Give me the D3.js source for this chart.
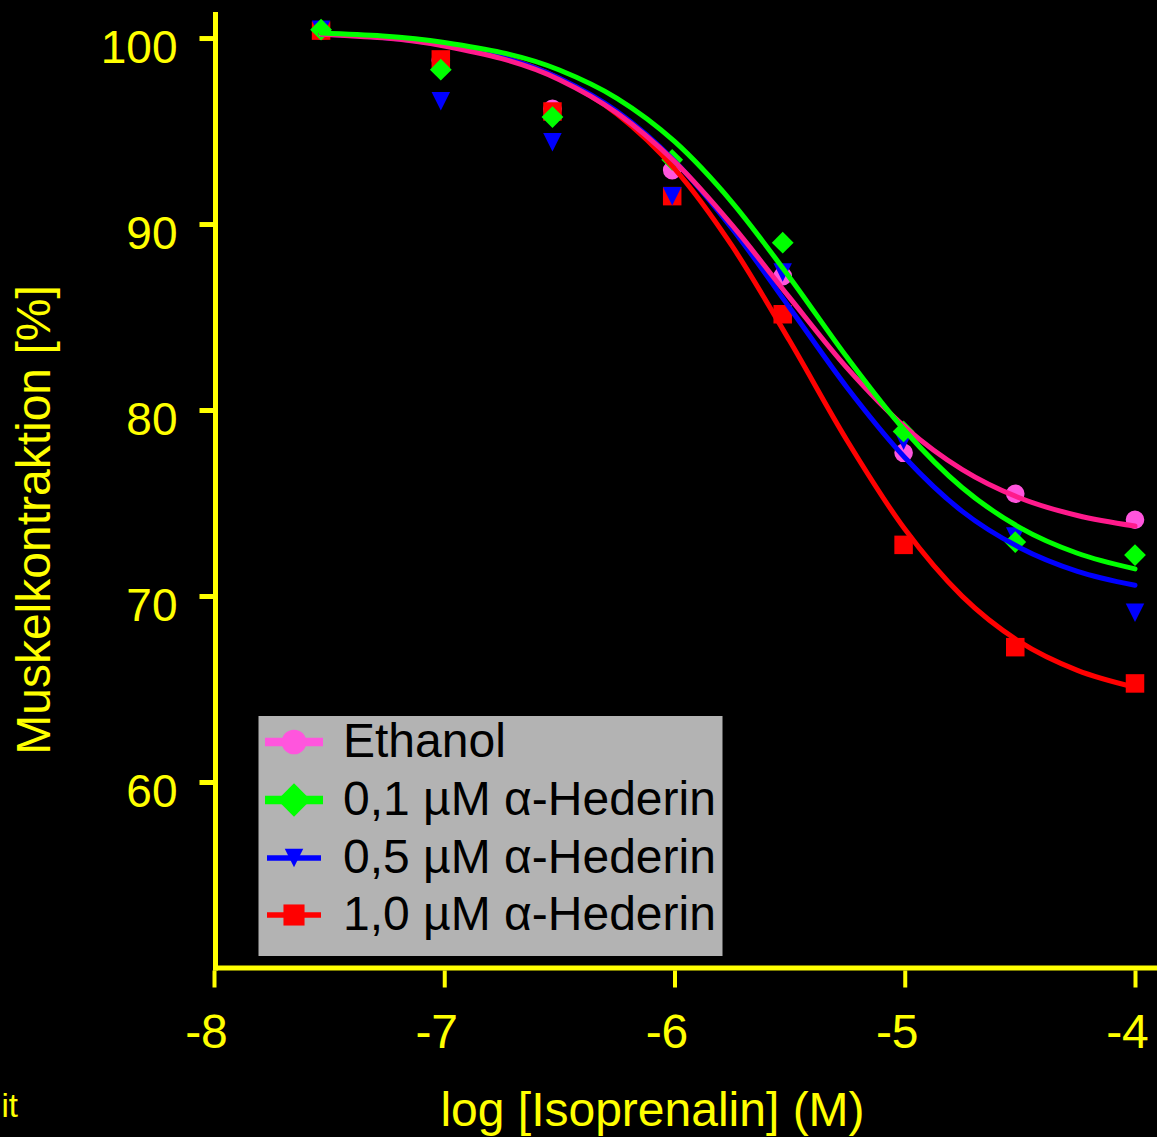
<!DOCTYPE html>
<html>
<head>
<meta charset="utf-8">
<script src="https://cdn.jsdelivr.net/npm/d3@7"></script>
<style>
  html, body { margin: 0; padding: 0; background: #000; }
  svg { display: block; }
  text { font-family: "Liberation Sans", Arial, sans-serif; }
</style>
</head>
<body>
<svg id="chart" width="1157" height="1137"></svg>
<script>
// ---------- data ----------
const xTicks = [-8, -7, -6, -5, -4];
const yTicks = [60, 70, 80, 90, 100];
const doses = [-7.535, -7.015, -6.53, -6.01, -5.53, -5.005, -4.52, -4.0];

const ethanol = [100.4, 98.8, 96.2, 92.9, 87.2, 77.7, 75.5, 74.1];
const hed01   = [100.45, 98.3, 95.75, 93.45, 89.0, 78.85, 72.9, 72.2];
const hed05   = [100.45, 96.6, 94.4, 91.5, 87.4, 78.35, 73.2, 69.1];
const hed10   = [100.4, 98.85, 96.05, 91.5, 85.15, 72.75, 67.25, 65.3];

// fitted curves
const fitX       = [-7.535, -7.0, -6.5, -6.25, -6.0, -5.75, -5.5, -5.25, -5.0, -4.75, -4.5, -4.25, -4.0];
const fitEthanol = [100.21, 99.57, 97.76, 95.97, 93.36, 89.94, 86.04, 82.25, 79.10, 76.80, 75.27, 74.33, 73.76];
const fitHed01   = [100.27, 99.76, 98.28, 96.76, 94.44, 91.17, 87.13, 82.82, 78.90, 75.82, 73.68, 72.30, 71.46];
const fitHed05   = [100.22, 99.61, 97.84, 96.06, 93.39, 89.76, 85.5, 81.2, 77.45, 74.55, 72.6, 71.33, 70.58];
const fitHed10   = [100.24, 99.64, 97.82, 95.92, 92.98, 88.82, 83.72, 78.35, 73.60, 69.98, 67.53, 66.00, 65.09];

const seriesNames = ["Ethanol", "0,1 µM α-Hederin", "0,5 µM α-Hederin", "1,0 µM α-Hederin"];
const xTitle = "log [Isoprenalin] (M)";
const yTitle = "Muskelkontraktion [%]";
const cornerText = "it";

// ---------- styles ----------
const YELLOW = "#ffff00";
const series = [
  { name: seriesNames[0], pts: ethanol, fit: fitEthanol, marker: "#ff55dd", line: "#ff1a8c", shape: "circle" },
  { name: seriesNames[1], pts: hed01,   fit: fitHed01,   marker: "#00ff00", line: "#00ff00", shape: "diamond" },
  { name: seriesNames[2], pts: hed05,   fit: fitHed05,   marker: "#0000ff", line: "#0000ff", shape: "triangle" },
  { name: seriesNames[3], pts: hed10,   fit: fitHed10,   marker: "#ff0000", line: "#ff0000", shape: "square" }
];

const svg = d3.select("#chart");
const W = 1157, H = 1137;
svg.append("rect").attr("width", W).attr("height", H).attr("fill", "#000");

const x = d3.scaleLinear().domain([-8, -4]).range([214, 1135]);
const y = d3.scaleLinear().domain([50, 101.4]).range([968, 12]);

// custom down triangle (box centred)
const triDown = {
  draw(ctx, size) {
    const s = Math.sqrt(size);
    ctx.moveTo(-s / 2, -s / 2);
    ctx.lineTo(s / 2, -s / 2);
    ctx.lineTo(0, s / 2);
    ctx.closePath();
  }
};
function symbolPath(shape, scale) {
  if (shape === "circle") return d3.symbol(d3.symbolCircle, Math.PI * Math.pow(9.3 * scale, 2))();
  if (shape === "square") return d3.symbol(d3.symbolSquare, Math.pow(18.5 * scale, 2))();
  if (shape === "diamond") return d3.symbol(d3.symbolSquare, Math.pow(15.4 * scale, 2))();
  return d3.symbol(triDown, Math.pow(18.5 * scale, 2))();
}

// ---------- axes ----------
const yAxis = d3.axisLeft(y).tickValues(yTicks).tickSize(16).tickPadding(22).tickFormat(d => String(d));
const gy = svg.append("g").attr("transform", "translate(215.5,0)").call(yAxis);
gy.select(".domain").remove();
gy.selectAll(".tick line").attr("stroke", YELLOW).attr("stroke-width", 5);
gy.selectAll(".tick text").attr("fill", YELLOW).attr("font-size", 46)
  .attr("font-family", "Liberation Sans, Arial, sans-serif").attr("dy", 24);
svg.append("line").attr("x1", 215.5).attr("x2", 215.5).attr("y1", y.range()[1]).attr("y2", y.range()[0] + 2.5)
  .attr("stroke", YELLOW).attr("stroke-width", 5);

const xAxis = d3.axisBottom(x).tickValues(xTicks).tickSize(17).tickPadding(0).tickFormat(d => String(d));
const gx = svg.append("g").attr("transform", "translate(0,970.5)").call(xAxis);
gx.select(".domain").remove();
gx.selectAll(".tick line").attr("stroke", YELLOW).attr("stroke-width", 4);
gx.selectAll(".tick text").attr("fill", YELLOW).attr("font-size", 48)
  .attr("font-family", "Liberation Sans, Arial, sans-serif")
  .attr("text-anchor", "end").attr("x", 13.3).attr("y", 77.5).attr("dy", 0);
svg.append("line").attr("x1", 213).attr("x2", W).attr("y1", 968).attr("y2", 968)
  .attr("stroke", YELLOW).attr("stroke-width", 5);

// titles
svg.append("text").attr("x", 652.5).attr("y", 1126).attr("text-anchor", "middle")
  .attr("fill", YELLOW).attr("font-size", 48).text(xTitle);
svg.append("text").attr("transform", "translate(49.5,520) rotate(-90)").attr("text-anchor", "middle")
  .attr("fill", YELLOW).attr("font-size", 48).text(yTitle);
svg.append("text").attr("x", 18).attr("y", 1117).attr("text-anchor", "end")
  .attr("fill", YELLOW).attr("font-size", 33).text(cornerText);

// ---------- markers (bottom to top: ethanol, 1.0, 0.5, 0.1) ----------
const markerOrder = [series[0], series[3], series[2], series[1]];
markerOrder.forEach(s => {
  svg.append("g").selectAll("path").data(doses.map((d, i) => [d, s.pts[i]])).join("path")
    .attr("d", symbolPath(s.shape, 1))
    .attr("transform", d => `translate(${x(d[0])},${y(d[1])})` + (s.shape === "diamond" ? " rotate(45)" : ""))
    .attr("fill", s.marker);
});

// ---------- fitted curves ----------
const line = d3.line().x(d => x(d[0])).y(d => y(d[1])).curve(d3.curveMonotoneX);
const lineOrder = [series[3], series[2], series[0], series[1]];
lineOrder.forEach(s => {
  svg.append("path").datum(fitX.map((d, i) => [d, s.fit[i]]))
    .attr("d", line).attr("fill", "none").attr("stroke", s.line)
    .attr("stroke-width", 5).attr("stroke-linecap", "round");
});

// ---------- legend ----------
const lg = svg.append("g");
lg.append("rect").attr("x", 258.5).attr("y", 716).attr("width", 464).attr("height", 240).attr("fill", "#b3b3b3");
const rowY = [742, 800, 858, 915];
const legLW = [8.5, 8.5, 5.5, 5.5];
const legLX = [[265, 323], [265, 323], [267, 321], [267, 321]];
const legScale = { circle: 1.33, diamond: 1.53, triangle: 1.0, square: 1.14 };
series.forEach((s, i) => {
  lg.append("line").attr("x1", legLX[i][0]).attr("x2", legLX[i][1]).attr("y1", rowY[i]).attr("y2", rowY[i])
    .attr("stroke", s.marker).attr("stroke-width", legLW[i]);
  lg.append("path").attr("d", symbolPath(s.shape, legScale[s.shape]))
    .attr("transform", `translate(294,${rowY[i]})` + (s.shape === "diamond" ? " rotate(45)" : ""))
    .attr("fill", s.marker);
  lg.append("text").attr("x", 343).attr("y", rowY[i] + 15).attr("fill", "#000")
    .attr("font-size", 48).text(s.name);
});
</script>
</body>
</html>
